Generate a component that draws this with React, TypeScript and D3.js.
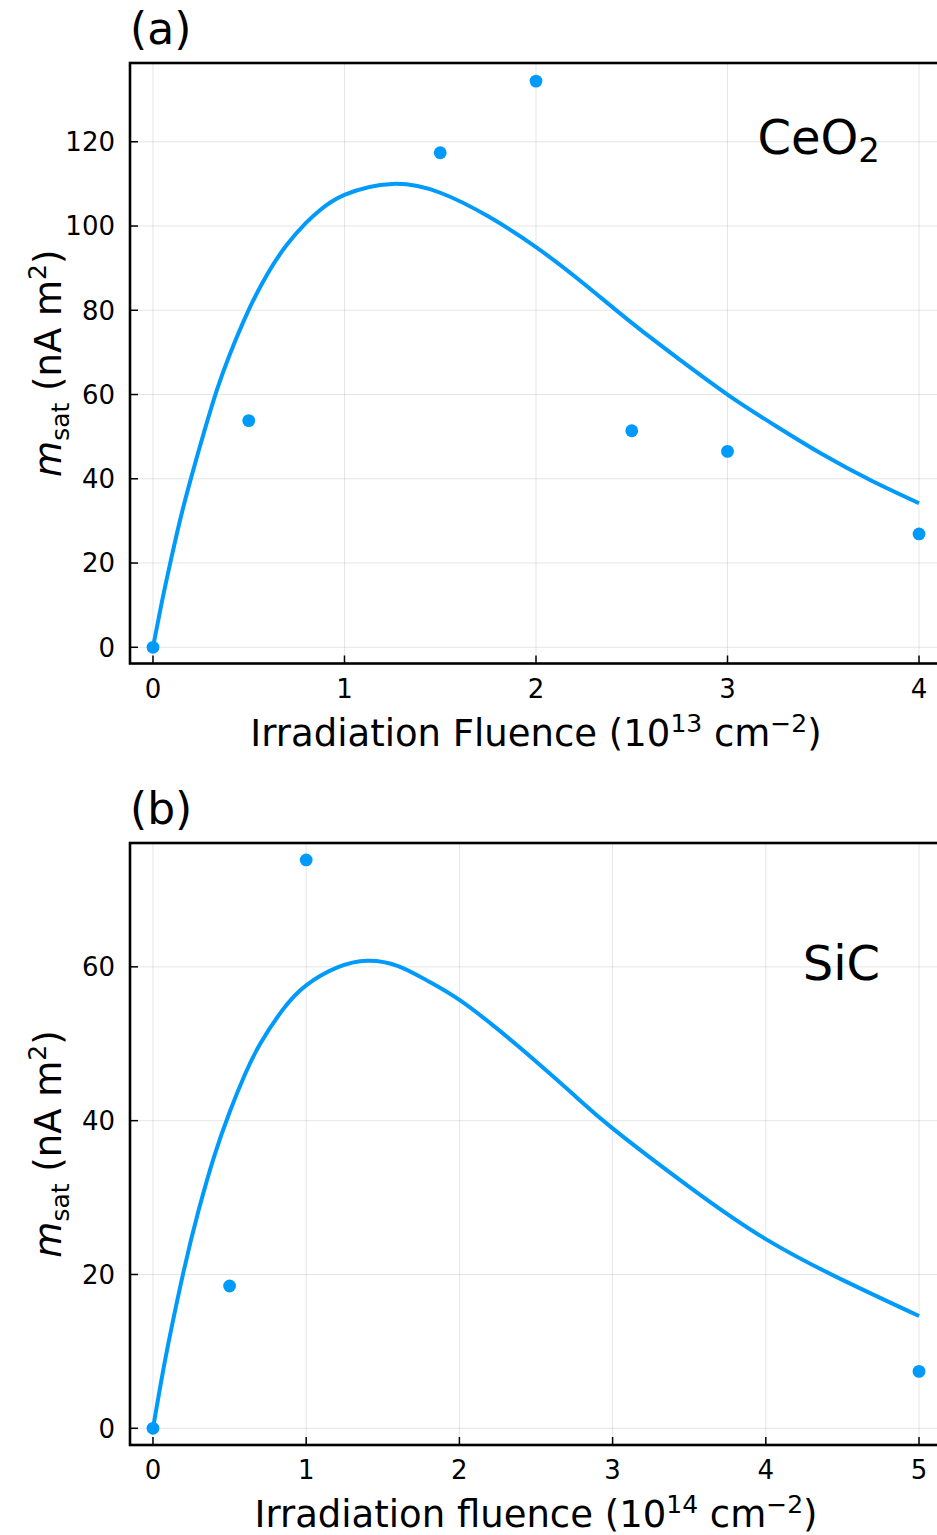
import React from "react";
import * as d3 from "d3";

// ---- Panel (a): CeO2 ----
const ceX = [0, 0.5, 1.5, 2, 2.5, 3, 4];
const ceY = [0, 53.8, 117.4, 134.4, 51.4, 46.5, 26.9];
const ceFitX = [0, 0.04, 0.08, 0.14, 0.2, 0.27, 0.333, 0.4, 0.5, 0.6, 0.7, 0.8, 0.87, 1, 1.25, 1.5, 1.75, 2, 2.25, 2.5, 2.75, 3, 3.25, 3.5, 3.75, 4];
const ceFitY = [0, 9.3, 17.9, 29.9, 40.4, 51.6, 61.0, 69.4, 80.1, 88.8, 95.6, 100.8, 103.7, 107.4, 110.0, 107.9, 102.3, 95, 86.3, 77, 68.3, 60, 52.6, 45.7, 39.6, 34.2];
const ceXTicks = [0, 1, 2, 3, 4];
const ceYTicks = [0, 20, 40, 60, 80, 100, 120];

// ---- Panel (b): SiC ----
const sicX = [0, 0.5, 1, 5];
const sicY = [0, 18.5, 73.9, 7.4];
const sicFitX = [0, 0.05, 0.1, 0.2, 0.3, 0.4, 0.5, 0.6, 0.7, 0.85, 1, 1.2, 1.4, 1.6, 1.8, 2, 2.25, 2.5, 2.75, 3, 3.5, 4, 4.5, 5];
const sicFitY = [0, 5.7, 11.0, 20.4, 28.5, 35.4, 41.1, 46.0, 50.0, 54.5, 57.6, 59.9, 60.8, 60.1, 58.1, 55.7, 51.9, 47.7, 43.3, 39.0, 31.4, 24.6, 19.3, 14.6];
const sicXTicks = [0, 1, 2, 3, 4, 5];
const sicYTicks = [0, 20, 40, 60];

const BLUE = "#009AFA";
const FONT = "DejaVu Sans";

type PanelProps = {
  top: number;
  bottom: number;
  xDomain: [number, number];
  yDomain: [number, number];
  px: number[];
  py: number[];
  fx: number[];
  fy: number[];
  xTicks: number[];
  yTicks: number[];
  tag: string;
  xlabelPre: string;
  xExp: string;
  material: React.ReactNode;
  materialY: number;
};

function Panel(p: PanelProps) {
  const left = 130;
  const right = 942;
  const x = d3.scaleLinear().domain(p.xDomain).range([left, right]);
  const y = d3.scaleLinear().domain(p.yDomain).range([p.bottom, p.top]);
  const line = d3
    .line<number>()
    .x((_, i) => x(p.fx[i]))
    .y((d) => y(d))
    .curve(d3.curveNatural);
  const midY = (p.top + p.bottom) / 2;
  return (
    <g>
      {p.xTicks.map((t) => (
        <line key={"gx" + t} x1={x(t)} x2={x(t)} y1={p.top} y2={p.bottom} stroke="#000" strokeOpacity={0.1} strokeWidth={1} />
      ))}
      {p.yTicks.map((t) => (
        <line key={"gy" + t} x1={left} x2={right} y1={y(t)} y2={y(t)} stroke="#000" strokeOpacity={0.1} strokeWidth={1} />
      ))}
      <path d={line(p.fy) || ""} fill="none" stroke={BLUE} strokeWidth={4} strokeLinejoin="round" />
      {p.px.map((v, i) => (
        <circle key={"pt" + i} cx={x(v)} cy={y(p.py[i])} r={6.4} fill={BLUE} />
      ))}
      <rect x={left} y={p.top} width={right - left} height={p.bottom - p.top} fill="none" stroke="#000" strokeWidth={2.6} />
      {p.xTicks.map((t) => (
        <g key={"tx" + t}>
          <line x1={x(t)} x2={x(t)} y1={p.bottom} y2={p.bottom - 8} stroke="#000" strokeWidth={1.5} />
          <text x={x(t)} y={p.bottom + 34} textAnchor="middle" fontFamily={FONT} fontSize={26}>
            {t}
          </text>
        </g>
      ))}
      {p.yTicks.map((t) => (
        <g key={"ty" + t}>
          <line x1={left} x2={left + 8} y1={y(t)} y2={y(t)} stroke="#000" strokeWidth={1.5} />
          <text x={115} y={y(t)} dy="0.36em" textAnchor="end" fontFamily={FONT} fontSize={26}>
            {t}
          </text>
        </g>
      ))}
      <text x={(left + right) / 2} y={p.bottom + 82} textAnchor="middle" fontFamily={FONT} fontSize={37}>
        {p.xlabelPre}
        <tspan fontSize={25} dy={-14}>{p.xExp}</tspan>
        <tspan fontSize={37} dy={14}>{" cm"}</tspan>
        <tspan fontSize={25} dy={-14}>−2</tspan>
        <tspan fontSize={37} dy={14}>)</tspan>
      </text>
      <text transform={`translate(61,${midY}) rotate(-90)`} textAnchor="middle" fontFamily={FONT} fontSize={37}>
        <tspan fontStyle="italic">m</tspan>
        <tspan fontSize={25} dy={8}>sat</tspan>
        <tspan fontSize={37} dy={-8}>{" (nA m"}</tspan>
        <tspan fontSize={25} dy={-15}>2</tspan>
        <tspan fontSize={37} dy={15}>)</tspan>
      </text>
      <text x={130} y={p.top - 19} fontFamily={FONT} fontSize={44}>
        {p.tag}
      </text>
      <text x={880} y={p.materialY} textAnchor="end" fontFamily={FONT} fontSize={48}>
        {p.material}
      </text>
    </g>
  );
}

export default function App() {
  return (
    <div style={{ position: "absolute", left: 0, top: 0 }}>
      <svg width={937} height={1535} style={{ display: "block", background: "#fff" }}>
        <Panel
          top={63}
          bottom={663.5}
          xDomain={[-0.12, 4.12]}
          yDomain={[-3.85, 138.7]}
          px={ceX}
          py={ceY}
          fx={ceFitX}
          fy={ceFitY}
          xTicks={ceXTicks}
          yTicks={ceYTicks}
          tag="(a)"
          xlabelPre="Irradiation Fluence (10"
          xExp="13"
          material={
            <>
              CeO<tspan fontSize={34} dy={8}>2</tspan>
            </>
          }
          materialY={154}
        />
        <Panel
          top={843}
          bottom={1445}
          xDomain={[-0.15, 5.15]}
          yDomain={[-2.17, 76.1]}
          px={sicX}
          py={sicY}
          fx={sicFitX}
          fy={sicFitY}
          xTicks={sicXTicks}
          yTicks={sicYTicks}
          tag="(b)"
          xlabelPre="Irradiation fluence (10"
          xExp="14"
          material={<>SiC</>}
          materialY={980}
        />
      </svg>
    </div>
  );
}
